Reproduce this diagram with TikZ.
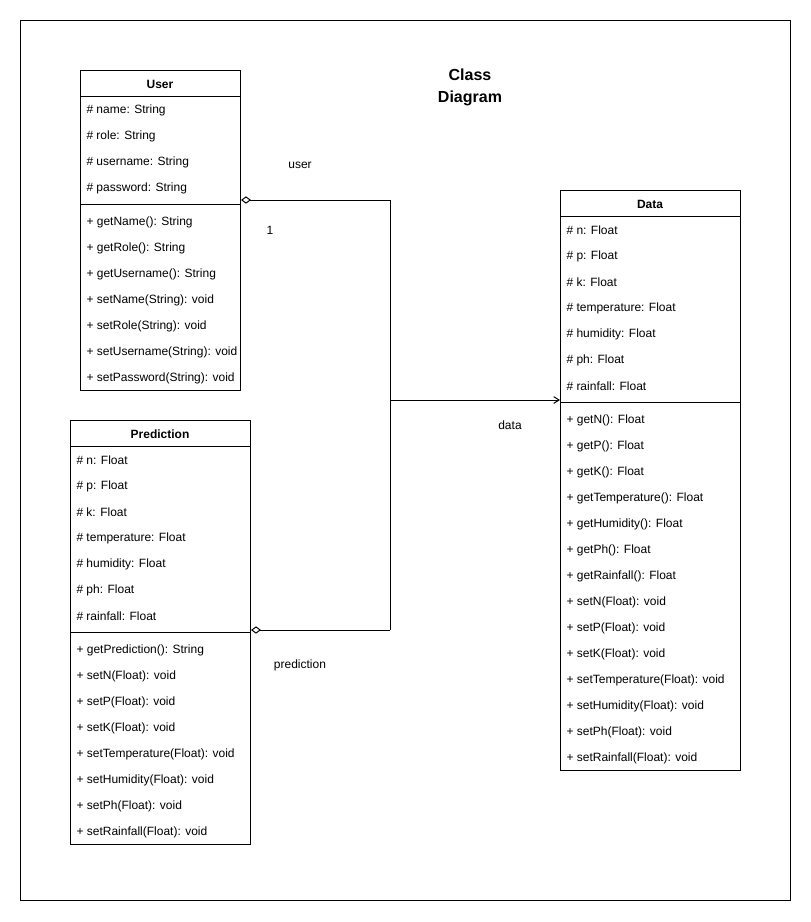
\documentclass[tikz,border=0pt]{standalone}
\usepackage{fontspec}
\setmainfont{Liberation Sans}
\usetikzlibrary{arrows.meta}
\begin{document}
\begin{tikzpicture}[x=0.75pt,y=-0.75pt, line width=0.75pt,
  classbox/.style={draw, anchor=north west, inner sep=0pt},
  row/.style={anchor=west, inner sep=0pt, yshift=-1.2pt, font=\fontsize{9}{10}\selectfont},
  head/.style={anchor=center, inner sep=0pt, yshift=-1.2pt, font=\bfseries\fontsize{9}{10}\selectfont},
  lbl/.style={inner sep=0pt, yshift=-1.2pt, font=\fontsize{9}{10}\selectfont},
  agg/.style={{Diamond[open,length=7.5pt,width=5.5pt]}-}]
\useasboundingbox (0,0) rectangle (811,922);
\node[draw, anchor=north west, minimum width=577.5pt, minimum height=660pt, inner sep=0pt] (frame) at (20,20) {};
% title
\node[align=center, inner sep=0pt, font=\bfseries\fontsize{12}{16.5}\selectfont] (title) at (470,87) {Class\\Diagram};
% User
\node[classbox, minimum width=120pt, minimum height=240pt] (user) at (80,70) {};
\draw (80,96) -- (240,96);
\draw (80,204) -- (240,204);
\node[head] (user-h) at (160,83) {User};
\foreach [count=\i] \t in {\# name: String, \# role: String, \# username: String, \# password: String}
  \node[row] (user-a\i) at (86,83+26*\i) {\t};
\foreach [count=\i] \t in {+ getName(): String, + getRole(): String, + getUsername(): String, + setName(String): void, + setRole(String): void, + setUsername(String): void, + setPassword(String): void}
  \node[row] (user-m\i) at (86,195+26*\i) {\t};
% Prediction
\node[classbox, minimum width=135pt, minimum height=318pt] (pred) at (70,420) {};
\draw (70,446) -- (250,446);
\draw (70,632) -- (250,632);
\node[head] (pred-h) at (160,433) {Prediction};
\foreach [count=\i] \t in {\# n: Float, \# p: Float, \# k: Float, \# temperature: Float, \# humidity: Float, \# ph: Float, \# rainfall: Float}
  \node[row] (pred-a\i) at (76,433+26*\i) {\t};
\foreach [count=\i] \t in {+ getPrediction(): String, + setN(Float): void, + setP(Float): void, + setK(Float): void, + setTemperature(Float): void, + setHumidity(Float): void, + setPh(Float): void, + setRainfall(Float): void}
  \node[row] (pred-m\i) at (76,623+26*\i) {\t};
% Data
\node[classbox, minimum width=135pt, minimum height=435pt] (data) at (560,190) {};
\draw (560,216) -- (740,216);
\draw (560,402) -- (740,402);
\node[head] (data-h) at (650,203) {Data};
\foreach [count=\i] \t in {\# n: Float, \# p: Float, \# k: Float, \# temperature: Float, \# humidity: Float, \# ph: Float, \# rainfall: Float}
  \node[row] (data-a\i) at (566,203+26*\i) {\t};
\foreach [count=\i] \t in {+ getN(): Float, + getP(): Float, + getK(): Float, + getTemperature(): Float, + getHumidity(): Float, + getPh(): Float, + getRainfall(): Float, + setN(Float): void, + setP(Float): void, + setK(Float): void, + setTemperature(Float): void, + setHumidity(Float): void, + setPh(Float): void, + setRainfall(Float): void}
  \node[row] (data-m\i) at (566,393+26*\i) {\t};
% connectors
\coordinate (j1) at (390,200);
\coordinate (j2) at (390,630);
\coordinate (j3) at (390,400);
\draw[agg] (user.north east |- j1) -- (j1) -- (j2);
\draw[agg] (pred.north east |- j2) -- (j2);
\draw[-{Straight Barb[length=4pt,width=5pt]}] (j3) -- (data.north west |- j3);
% labels
\node[lbl] (l-user) at (300,164) {user};
\node[lbl] (l-one) at (270,229) {1};
\node[lbl] (l-data) at (510,424) {data};
\node[lbl] (l-pred) at (300,664) {prediction};
\end{tikzpicture}
\end{document}
